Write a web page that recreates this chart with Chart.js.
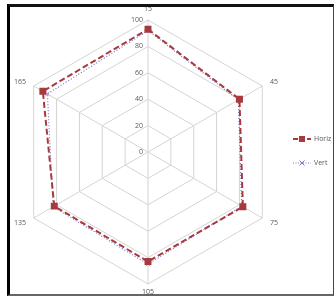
<!DOCTYPE html>
<html><head><meta charset="utf-8">
<script src="https://cdn.jsdelivr.net/npm/chart.js@4/dist/chart.umd.min.js"></script>
<style>
html,body{margin:0;padding:0;background:#fff;}
#wrap{position:relative;width:335px;height:296px;}
#frame{position:absolute;left:7px;top:4px;width:323px;height:287px;border-left:3px solid #000;border-top:3px solid #111;border-right:1px solid #444;border-bottom:2px solid #666;pointer-events:none;}
</style></head>
<body>
<div id="wrap"><canvas id="c" width="335" height="296"></canvas><div id="frame"></div></div>
<script>
const categories = ['15','45','75','105','135','165'];
const horiz = [93, 80, 83, 83, 82, 92];
const vert = [92, 79, 82, 85, 83, 88];
const tickValues = [0, 20, 40, 60, 80, 100];
const seriesNames = ['Horiz','Vert'];

const RED = '#A8393E';
const BLUE = '#7777C4';
const FONT = '7px "Open Sans", "Liberation Sans", sans-serif';
const TXT = '#595959';

const labelsPlugin = {
  id: 'customLabels',
  afterDraw(chart) {
    const s = chart.scales.r;
    const ctx = chart.ctx;
    ctx.save();
    ctx.font = FONT;
    ctx.fillStyle = TXT;
    // tick labels
    ctx.textAlign = 'right';
    ctx.textBaseline = 'middle';
    tickValues.forEach(v => {
      const d = s.getDistanceFromCenterForValue(v);
      ctx.fillText(String(v), s.xCenter - 5, s.yCenter - d);
    });
    // point labels
    const outer = s.getDistanceFromCenterForValue(100);
    categories.forEach((lab, i) => {
      const p = s.getPointPosition(i, outer + 9);
      const dx = p.x - s.xCenter;
      if (Math.abs(dx) < 1) ctx.textAlign = 'center';
      else if (dx > 0) ctx.textAlign = 'left';
      else ctx.textAlign = 'right';
      let y = p.y;
      if (i === 0) y = s.yCenter - outer - 11;
      if (i === 3) y = s.yCenter + outer + 8;
      ctx.fillText(lab, p.x, y);
    });
    // legend
    const items = [
      {name: seriesNames[0], color: RED, dash: [5,2], y: 139, marker: 'square'},
      {name: seriesNames[1], color: BLUE, dash: [1,1.5], y: 163, marker: 'x'}
    ];
    items.forEach(it => {
      ctx.strokeStyle = it.color;
      ctx.lineWidth = it.marker === 'square' ? 2 : 1.2;
      ctx.setLineDash(it.dash);
      ctx.beginPath(); ctx.moveTo(293, it.y); ctx.lineTo(311, it.y); ctx.stroke();
      ctx.setLineDash([]);
      if (it.marker === 'square') {
        ctx.fillStyle = it.color; ctx.fillRect(299, it.y - 3, 6, 6);
      } else {
        ctx.lineWidth = 1; ctx.beginPath();
        ctx.moveTo(299.5, it.y - 2.5); ctx.lineTo(304.5, it.y + 2.5);
        ctx.moveTo(304.5, it.y - 2.5); ctx.lineTo(299.5, it.y + 2.5); ctx.stroke();
      }
      ctx.fillStyle = TXT; ctx.textAlign = 'left'; ctx.textBaseline = 'middle';
      ctx.fillText(it.name, 314, it.y);
    });
    ctx.restore();
  }
};

new Chart(document.getElementById('c'), {
  type: 'radar',
  data: {
    labels: categories,
    datasets: [
      {label: seriesNames[0], data: horiz, borderColor: RED, backgroundColor: RED, borderWidth: 2,
       borderDash: [6,3], pointStyle: 'rect', pointRadius: 3.5, pointBackgroundColor: RED, pointBorderColor: RED, fill: false},
      {label: seriesNames[1], data: vert, borderColor: BLUE, backgroundColor: BLUE, borderWidth: 1.2,
       borderDash: [1,2], pointStyle: 'crossRot', pointRadius: 3, pointBorderColor: '#9A9AD6', pointBorderWidth: 1, fill: false}
    ]
  },
  options: {
    responsive: false,
    animation: false,
    events: [],
    layout: {padding: {left: 16, right: 55, top: 20, bottom: 12}},
    plugins: {legend: {display: false}, tooltip: {enabled: false}},
    elements: {line: {tension: 0}},
    scales: {
      r: {
        min: 0, max: 100,
        ticks: {display: false, stepSize: 20},
        pointLabels: {display: false},
        grid: {color: '#d4d4d4', lineWidth: 1},
        angleLines: {color: '#d4d4d4', lineWidth: 1}
      }
    }
  },
  plugins: [labelsPlugin]
});
</script>
</body></html>
